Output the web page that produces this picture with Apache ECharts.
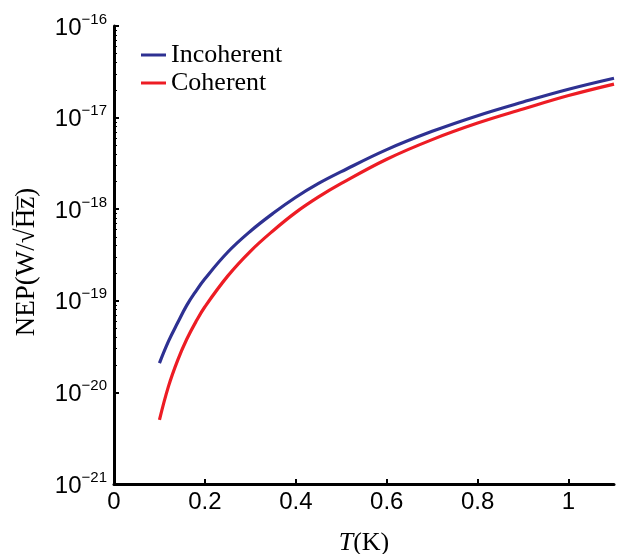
<!DOCTYPE html>
<html>
<head>
<meta charset="utf-8">
<script src="https://cdn.jsdelivr.net/npm/echarts@6/dist/echarts.min.js"></script>
<style>
html,body{margin:0;padding:0;background:#fff;}
#chart{width:617px;height:554px;}
</style>
</head>
<body>
<div id="chart"></div>
<script>
// Temperature T (K)
var temperatures = [0.10, 0.12, 0.14, 0.16, 0.18, 0.20, 0.25, 0.30, 0.35, 0.40, 0.45, 0.50, 0.60, 0.70, 0.80, 0.90, 1.00, 1.10];
// NEP (W/sqrt(Hz))
var incoherentNEP = [2.09e-20, 3.63e-20, 5.75e-20, 8.91e-20, 1.27e-19, 1.74e-19, 3.39e-19, 5.75e-19, 9.02e-19, 1.35e-18, 1.91e-18, 2.57e-18, 4.47e-18, 7.08e-18, 1.05e-17, 1.48e-17, 2.04e-17, 2.69e-17];
var coherentNEP   = [5.01e-21, 1.17e-20, 2.24e-20, 3.80e-20, 5.89e-20, 8.61e-20, 1.86e-19, 3.47e-19, 5.82e-19, 9.23e-19, 1.36e-18, 1.91e-18, 3.51e-18, 5.75e-18, 8.71e-18, 1.24e-17, 1.74e-17, 2.32e-17];
var seriesNames = ['Incoherent', 'Coherent'];
var xTickValues = [0, 0.2, 0.4, 0.6, 0.8, 1];
var yTickValues = [1e-21, 1e-20, 1e-19, 1e-18, 1e-17, 1e-16];

function pairs(xs, ys) { return xs.map(function (x, i) { return [x, ys[i]]; }); }

var chart = echarts.init(document.getElementById('chart'));
var sansFont = '"Liberation Sans", Arial, sans-serif';
var serifFont = '"Liberation Serif", "Times New Roman", serif';

chart.setOption({
  animation: false,
  backgroundColor: '#ffffff',
  grid: { left: 114, right: 3, top: 26, bottom: 70, containLabel: false, outerBoundsMode: 'none' },
  legend: {
    orient: 'vertical',
    left: 141,
    top: 42,
    padding: 0,
    itemGap: 2,
    itemWidth: 25,
    itemHeight: 3,
    icon: 'rect',
    textStyle: { fontFamily: serifFont, fontSize: 26, color: '#000' },
    data: seriesNames
  },
  xAxis: {
    type: 'value',
    min: 0,
    max: 1.1,
    interval: 0.2,
    name: '{i|T}(K)',
    nameLocation: 'middle',
    nameGap: 46,
    nameMoveOverlap: false,
    nameTextStyle: {
      fontFamily: serifFont, fontSize: 26, color: '#000',
      rich: { i: { fontFamily: serifFont, fontSize: 26, fontStyle: 'italic', color: '#000' } }
    },
    axisLine: { show: true, lineStyle: { color: '#000', width: 3 } },
    axisTick: { show: true, inside: true, length: 5, lineStyle: { color: '#000', width: 2 } },
    axisLabel: {
      show: true, margin: 6, showMaxLabel: false, hideOverlap: false,
      fontFamily: sansFont, fontSize: 24, color: '#000',
      formatter: function (v) {
        for (var i = 0; i < xTickValues.length; i++) {
          if (Math.abs(v - xTickValues[i]) < 1e-9) return String(xTickValues[i]);
        }
        return '';
      }
    },
    splitLine: { show: false }
  },
  yAxis: {
    type: 'log',
    logBase: 10,
    min: 1e-21,
    max: 1e-16,
    name: 'NEP(W/√H\u0305z\u0305)',
    nameLocation: 'middle',
    nameGap: 74,
    nameRotate: 90,
    nameMoveOverlap: false,
    nameTextStyle: { fontFamily: serifFont, fontSize: 27, color: '#000', padding: [0, 14, 0, 0] },
    axisLine: { show: true, lineStyle: { color: '#000', width: 3 } },
    axisTick: { show: true, inside: true, length: 5, lineStyle: { color: '#000', width: 2 } },
    minorTick: { show: true, splitNumber: 9, length: 3, lineStyle: { color: '#000', width: 1 } },
    axisLabel: {
      show: true, margin: 7, showMinLabel: true, showMaxLabel: true, hideOverlap: false,
      customValues: yTickValues,
      formatter: function (v) {
        var e = Math.round(Math.log(v) / Math.LN10);
        return '{b|10}{s|' + (e < 0 ? '\u2212' : '') + Math.abs(e) + '}';
      },
      rich: {
        b: { fontFamily: sansFont, fontSize: 24, color: '#000', lineHeight: 28, verticalAlign: 'bottom' },
        s: { fontFamily: sansFont, fontSize: 15, color: '#000', lineHeight: 6, verticalAlign: 'top' }
      }
    },
    splitLine: { show: false }
  },
  series: [
    {
      name: seriesNames[0],
      type: 'line',
      data: pairs(temperatures, incoherentNEP),
      smooth: 0.4,
      symbol: 'none',
      lineStyle: { color: '#2E3192', width: 3.2 },
      itemStyle: { color: '#2E3192' }
    },
    {
      name: seriesNames[1],
      type: 'line',
      data: pairs(temperatures, coherentNEP),
      smooth: 0.4,
      symbol: 'none',
      lineStyle: { color: '#ED1C24', width: 3.2 },
      itemStyle: { color: '#ED1C24' }
    }
  ]
});
</script>
</body>
</html>
